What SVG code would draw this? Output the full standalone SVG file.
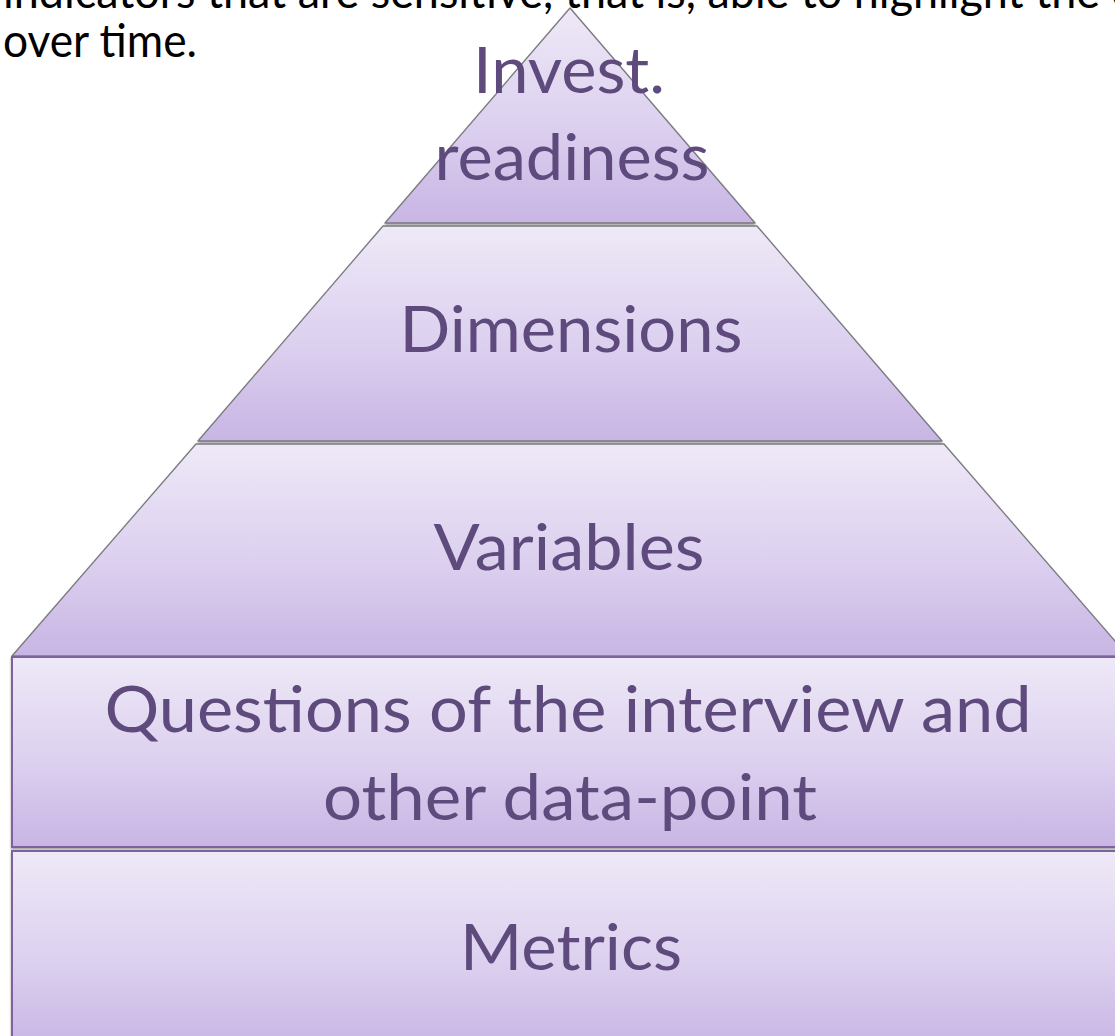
<svg xmlns="http://www.w3.org/2000/svg" width="1115" height="1036" viewBox="0 0 1115 1036">
  <style>
    .body { font-family: Lato, "Open Sans", "Liberation Sans", sans-serif; fill: #000000; font-size: 46px; }
    .label { font-family: Lato, "Open Sans", "Liberation Sans", sans-serif; fill: #5E4A7C; font-size: 64px; text-anchor: middle; }
    .tier { fill: url(#tierFill); stroke: #7A7A80; stroke-width: 1.3; stroke-linejoin: round; }
    .block { fill: url(#tierFill); stroke: #7D62A0; stroke-width: 2; }
  </style>
  <defs>
    <linearGradient id="tierFill" x1="0" y1="0" x2="0" y2="1">
      <stop offset="0" stop-color="#EEE9F7"/>
      <stop offset="0.55" stop-color="#DCD0EF"/>
      <stop offset="1" stop-color="#C8B5E4"/>
    </linearGradient>
    <filter id="softShadow" x="-5%" y="-5%" width="110%" height="115%">
      <feDropShadow dx="0" dy="2" stdDeviation="1.2" flood-color="#404040" flood-opacity="0.45"/>
    </filter>
  </defs>

  <!-- running paragraph text above the pyramid -->
  <g id="paragraph">
    <text class="body" x="3" y="8" textLength="1130" lengthAdjust="spacingAndGlyphs">indicators that are sensitive, that is, able to highlight the c</text>
    <text class="body" x="3" y="57" textLength="194" lengthAdjust="spacingAndGlyphs">over time.</text>
  </g>

  <!-- pyramid tiers, top to bottom -->
  <g id="tier-invest-readiness">
    <polygon class="tier" filter="url(#softShadow)" points="570,8 755,223 385,223"/>
    <text class="label" x="569" y="93" textLength="192" lengthAdjust="spacingAndGlyphs">Invest.</text>
    <text class="label" x="572" y="180" textLength="275" lengthAdjust="spacingAndGlyphs">readiness</text>
  </g>

  <g id="tier-dimensions">
    <polygon class="tier" filter="url(#softShadow)" points="383,226 757,226 942,441 198,441"/>
    <text class="label" x="571" y="352" textLength="343" lengthAdjust="spacingAndGlyphs">Dimensions</text>
  </g>

  <g id="tier-variables">
    <polygon class="tier" filter="url(#softShadow)" points="196,444 944,444 1128,656 12,656"/>
    <text class="label" x="569" y="570" textLength="271" lengthAdjust="spacingAndGlyphs">Variables</text>
  </g>

  <!-- base blocks -->
  <g id="block-questions">
    <rect class="block" filter="url(#softShadow)" x="12" y="657" width="1120" height="190"/>
    <text class="label" x="568" y="732" textLength="927" lengthAdjust="spacingAndGlyphs">Questions of the interview and</text>
    <text class="label" x="570" y="820" textLength="494" lengthAdjust="spacingAndGlyphs">other data-point</text>
  </g>

  <g id="block-metrics">
    <rect class="block" filter="url(#softShadow)" x="12" y="851" width="1120" height="200"/>
    <text class="label" x="571" y="970" textLength="222" lengthAdjust="spacingAndGlyphs">Metrics</text>
  </g>

  <g id="connectors"/>
</svg>
